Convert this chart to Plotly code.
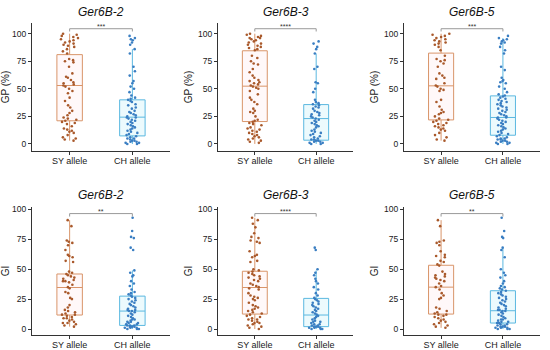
import plotly.graph_objects as go

categories = ["SY allele", "CH allele"]
titles = ["Ger6B-2", "Ger6B-3", "Ger6B-5", "Ger6B-2", "Ger6B-3", "Ger6B-5"]
ytitles = ["GP (%)", "GP (%)", "GP (%)", "GI", "GI", "GI"]
stars = ["***", "****", "***", "**", "****", "**"]
tick_vals = [0, 25, 50, 75, 100]
tick_text = ["0", "25", "50", "75", "100"]

SY1 = [100,99,98,97,96,95,94,93,92,91,90,89,88,86,84,82,77,76,75,74,70,64,61,60,58,56,55,54,53,52,50,48,46,42,39,35,33,30,28,26,24,23,22,21,20,19,18,16,14,13,12,11,10,8,6,5,4,3]
CH1 = [98,96,95,94,92,90,86,82,70,66,62,57,55,52,50,47,44,42,41,40,39,38,36,35,33,32,30,29,28,27,26,25,24,24,23,22,21,20,19,18,17,16,15,14,13,12,11,10,9,8,7,6,5,5,4,3,3,2,2,1,1,0,0]
SY2 = [100,99,98,97,96,96,95,94,93,92,91,90,89,88,87,86,85,80,78,75,73,72,68,65,62,60,58,57,56,55,54,53,52,51,50,48,45,42,40,38,36,32,30,29,28,25,22,21,20,19,18,17,15,14,13,12,11,10,9,8,7,6,5,4,3,2,1]
CH2 = [93,91,88,86,82,70,68,56,55,50,47,40,38,37,36,35,34,33,32,30,29,28,27,26,25,24,23,22,21,20,19,18,17,16,15,13,12,11,10,9,8,7,6,5,4,4,3,3,2,2,1,1,0,0]
SY3 = [100,99,98,97,96,95,94,93,92,91,90,88,85,80,77,76,75,73,70,64,62,60,59,55,53,52,50,49,48,40,38,34,31,29,28,27,25,23,22,21,20,19,18,17,16,15,14,13,12,10,8,6,4,3]
CH3 = [98,96,95,94,93,92,91,88,85,82,70,67,60,58,57,56,55,52,50,47,45,44,43,42,41,40,39,38,37,36,35,34,33,32,31,30,29,28,27,26,25,24,24,23,22,21,20,19,18,17,16,15,14,13,12,11,10,9,8,7,6,5,5,4,4,3,3,2,2,1,1,0,0]
SY4 = [91,86,74,73,72,70,66,62,61,60,57,56,48,47,46,45,44,43,42,41,40,40,39,37,35,34,31,30,26,25,20,18,16,15,14,13,12,12,11,10,9,9,8,7,6,5,5,4,3,2]
CH4 = [93,82,77,76,68,66,49,47,45,44,40,38,36,33,31,30,29,28,27,26,25,24,23,22,21,20,19,18,17,16,16,15,15,14,13,12,11,10,9,8,8,7,6,6,5,5,4,4,3,3,3,2,2,2,1,1,1,0,0,0]
SY5 = [93,91,88,85,80,77,76,74,73,72,65,62,61,60,57,56,50,49,48,47,46,45,44,43,42,41,40,38,37,36,35,34,33,30,28,27,26,25,24,22,20,19,18,17,16,15,14,13,12,11,10,9,8,8,7,6,5,5,4,3,2,1,0]
CH5 = [68,66,50,47,45,42,40,38,35,33,30,28,26,25,24,23,22,21,20,19,18,17,16,15,14,13,12,11,10,9,8,7,6,6,5,4,4,3,3,2,2,2,1,1,1,0,0,0]
SY6 = [91,86,74,73,72,70,65,62,61,60,57,56,54,53,48,46,45,44,43,42,41,40,38,36,35,33,30,28,26,25,18,17,15,14,13,12,12,11,10,9,8,7,6,5,4,3,2,1]
CH6 = [93,82,77,76,68,66,60,50,47,45,43,40,38,36,35,34,33,32,31,30,29,28,27,26,25,24,23,22,21,20,19,18,17,16,16,15,15,14,13,12,11,10,9,8,8,7,6,6,5,5,4,4,3,3,2,2,2,1,1,1,0,0,0]

# box statistics [SY, CH] per panel
q1 = [[21, 7.3], [20.3, 3.4], [21.8, 7.9], [11.7, 3], [12.5, 2], [12.5, 5]]
med = [[53, 24.3], [52.4, 23], [52.7, 24], [34.7, 15], [34.7, 11.7], [35, 15.3]]
q3 = [[81, 40], [84.5, 35.7], [82.4, 43.6], [46, 27.5], [48.3, 25.6], [53.3, 32]]
lowf = [[3, 0], [0, 0], [3, 0], [2, 0], [0, 0], [1, 0]]
upf = [[100, 86], [100, 82], [100, 96], [91, 49], [93, 49], [91, 68.6]]
bracket_h = [104.5, 104.5, 104.5, 96.5, 96.5, 96.5]

points = [(SY1, CH1), (SY2, CH2), (SY3, CH3), (SY4, CH4), (SY5, CH5), (SY6, CH6)]

line_cols = ["#D9956A", "#5BB8E0"]
fill_cols = ["rgba(255,190,200,0.10)", "rgba(150,225,245,0.18)"]
pt_cols = ["#A9592B", "#3A7EC2"]

W, H = 550, 350
xdom_px = [(32, 170), (218, 353), (404, 540)]
ydom_px = [(23, 151), (207, 335)]
yranges = [[-6.4, 109.7], [-5, 102]]

fig = go.Figure()
annotations = []
shapes = []
for i in range(6):
    r, c = divmod(i, 3)
    ax = "" if i == 0 else str(i + 1)
    xa, ya = "x" + ax, "y" + ax
    for k in range(2):
        fig.add_trace(go.Box(
            x=[categories[k]], q1=[q1[i][k]], median=[med[i][k]], q3=[q3[i][k]],
            lowerfence=[lowf[i][k]], upperfence=[upf[i][k]],
            boxpoints=False, whiskerwidth=0,
            line=dict(color=line_cols[k], width=1), fillcolor=fill_cols[k],
            xaxis=xa, yaxis=ya, showlegend=False, hoverinfo="skip"))
        vals = points[i][k]
        fig.add_trace(go.Box(
            x=[categories[k]] * len(vals), y=vals,
            boxpoints="all", jitter=0.7, pointpos=0,
            line=dict(color="rgba(0,0,0,0)", width=0.1), fillcolor="rgba(0,0,0,0)",
            marker=dict(color=pt_cols[k], size=2.6),
            xaxis=xa, yaxis=ya, showlegend=False))
    x0, x1 = xdom_px[c]
    y0, y1 = ydom_px[r]
    fig.layout["xaxis" + ax] = dict(
        domain=[x0 / W, x1 / W], anchor=ya, type="category",
        categoryorder="array", categoryarray=categories, range=[-0.6, 1.6],
        showline=True, linecolor="#333", linewidth=1, ticks="outside",
        ticklen=3, tickcolor="#333", showgrid=False, zeroline=False,
        ticklabelstandoff=-2,
        tickfont=dict(size=9, color="#1a1a1a"), fixedrange=True, automargin=False)
    fig.layout["yaxis" + ax] = dict(
        domain=[1 - y1 / H, 1 - y0 / H], anchor=xa, range=yranges[r],
        tickvals=tick_vals, ticktext=tick_text, automargin=False,
        showline=True, linecolor="#333", linewidth=1, ticks="outside",
        ticklen=3, tickcolor="#333", showgrid=False, zeroline=False,
        tickfont=dict(size=8.5, color="#1a1a1a"),
        title=dict(text=ytitles[i], font=dict(size=10, color="#1a1a1a"), standoff=3))
    h = bracket_h[i]
    shapes.append(dict(type="path", xref=xa, yref=ya,
                       path=f"M 0 {h-2.5} L 0 {h} L 1 {h} L 1 {h-2.5}",
                       line=dict(color="#999", width=1)))
    annotations.append(dict(x=0.5, y=h, xref=xa, yref=ya, text=stars[i],
                            showarrow=False, yanchor="bottom", yshift=-3,
                            font=dict(size=7, color="#333")))
    ty = 12 if r == 0 else 195
    annotations.append(dict(x=(x0 + x1) / 2 / W, y=1 - ty / H, xref="paper", yref="paper",
                            text="<i>" + titles[i] + "</i>", showarrow=False,
                            yanchor="middle", xanchor="center",
                            font=dict(size=12, color="#111")))

fig.update_layout(
    width=W, height=H, margin=dict(l=0, r=0, t=0, b=0),
    paper_bgcolor="white", plot_bgcolor="white",
    boxmode="overlay", boxgap=0.42,
    font=dict(family="Liberation Sans, Arial, sans-serif"),
    annotations=annotations, shapes=shapes, showlegend=False)

fig.write_html("out.html", config={"displayModeBar": False},
               post_script="document.body.style.margin='0';document.body.style.padding='0';")
